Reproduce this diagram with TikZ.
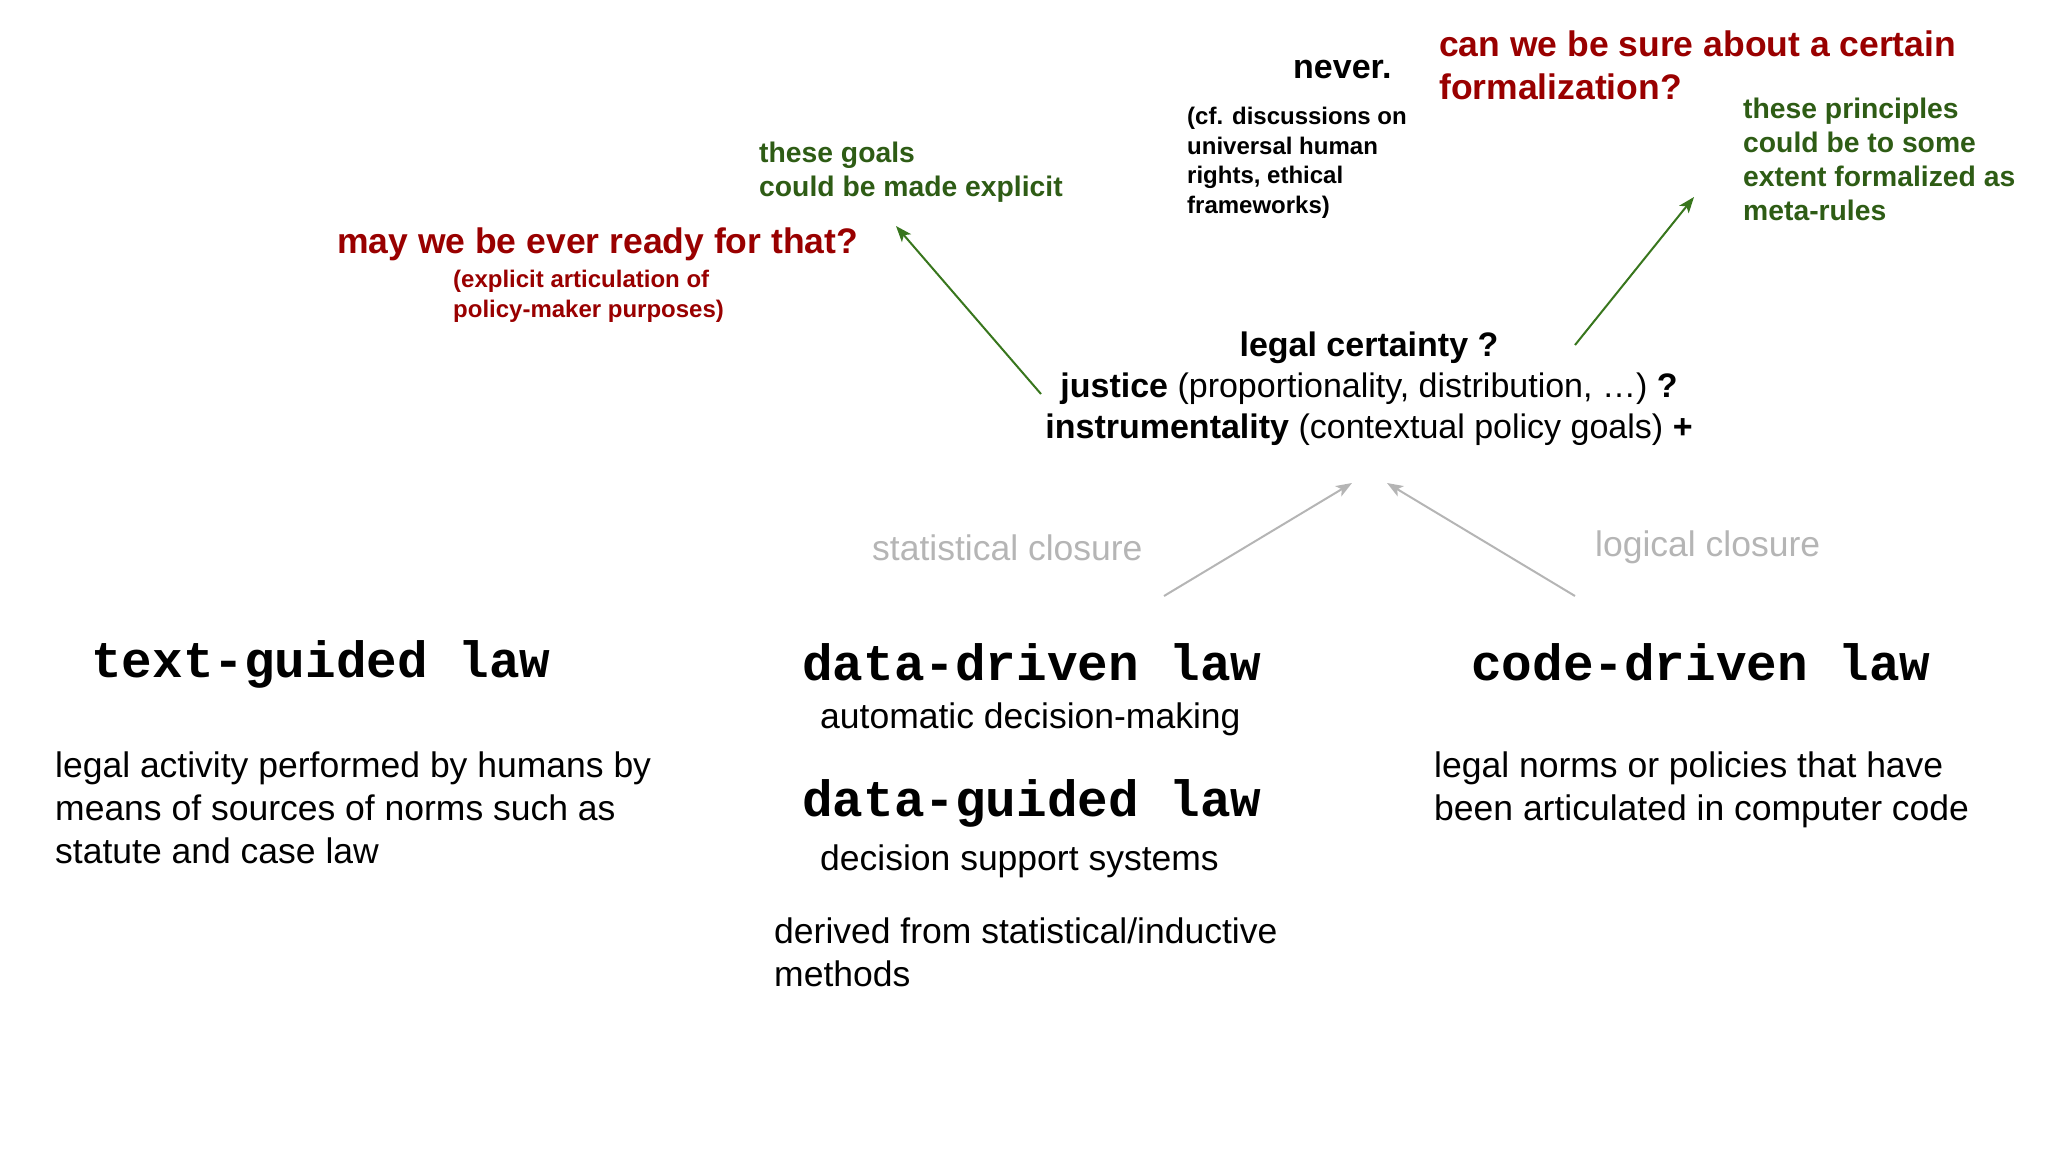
\documentclass[tikz,border=0pt]{standalone}
\usepackage{fontspec}
\setmainfont{Liberation Sans}
\setmonofont{Liberation Mono}
\usetikzlibrary{arrows.meta}
\definecolor{askred}{HTML}{990000}
\definecolor{hintgreen}{HTML}{2E5C15}
\definecolor{arrowgreen}{HTML}{38761D}
\definecolor{closegray}{HTML}{B5B5B5}

\begin{document}
\begin{tikzpicture}[x=1pt, y=-1pt,
    txt/.style = {inner sep=0, anchor=base west, align=left},
    body/.style = {txt, font=\fontsize{35.5}{43}\selectfont},
    law/.style = {txt, font=\fontsize{51}{61}\selectfont\ttfamily\bfseries},
    ask/.style = {txt, text=askred, font=\fontsize{35.5}{43}\selectfont\bfseries},
    note/.style = {txt, font=\fontsize{24}{29.5}\selectfont\bfseries},
    hint/.style = {txt, text=hintgreen, font=\fontsize{28.3}{34}\selectfont\bfseries},
    closure/.style = {body, text=closegray},
    up/.style = {-{Stealth[length=16pt,width=12pt,inset=4pt]}, line width=2pt}]
    \useasboundingbox (0,0) rectangle (2048,1152);

    % the three kinds of law (multi-line nodes sit on their last line)
    \node[law] (text) at (91,677) {text-guided law};
    \node[law] (ddriven) at (802,680) {data-driven law};
    \node[law] (code) at (1471,680) {code-driven law};
    \node[law] (dguided) at (802,816) {data-guided law};

    \node[body] (textdesc) at (55,863) {legal activity performed by humans by\\means of sources of norms such as\\statute and case law};
    \node[body] (auto) at (820,728) {automatic decision-making};
    \node[body] (support) at (820,870) {decision support systems};
    \node[body] (derived) at (774,986) {derived from statistical/inductive\\methods};
    \node[body] (codedesc) at (1434,820) {legal norms or policies that have\\been articulated in computer code};

    % closures
    \node[closure] (stat) at (872,560) {statistical closure};
    \node[closure] (logic) at (1595,556) {logical closure};
    \coordinate (statfoot) at (1164,596);
    \coordinate (logicfoot) at (1575,596);
    \coordinate (stattip) at (1352,483);
    \coordinate (logictip) at (1387,483);
    \draw[up, closegray] (statfoot) -- (stattip);
    \draw[up, closegray] (logicfoot) -- (logictip);

    % values
    \node[inner sep=0, anchor=base, align=center, font=\fontsize{34}{41}\selectfont] (values) at (1369,438)
        {\textbf{legal certainty ?}\\\textbf{justice} (proportionality, distribution, …) \textbf{?}\\\textbf{instrumentality} (contextual policy goals) \textbf{+}};

    % questions and notes
    \node[ask] (ready) at (337,253) {may we be ever ready for that?};
    \node[note, text=askred] (purpose) at (453,317) {(explicit articulation of\\policy-maker purposes)};
    \node[hint] (goals) at (759,196) {these goals\\could be made explicit};
    \node[txt, font=\fontsize{34}{41}\selectfont\bfseries] (never) at (1293,78) {never.};
    \node[note] (cf) at (1187,213) {(cf. discussions on\\universal human\\rights, ethical\\frameworks)};
    \node[ask] (sure) at (1439,99) {can we be sure about a certain\\formalization?};
    \node[hint] (meta) at (1743,220) {these principles\\could be to some\\extent formalized as\\meta-rules};

    \coordinate (goalsfoot) at (1041,394);
    \coordinate (goalstip) at (896,226);
    \coordinate (metafoot) at (1575,345);
    \coordinate (metatip) at (1694,197);
    \draw[up, arrowgreen] (goalsfoot) -- (goalstip);
    \draw[up, arrowgreen] (metafoot) -- (metatip);
\end{tikzpicture}
\end{document}
